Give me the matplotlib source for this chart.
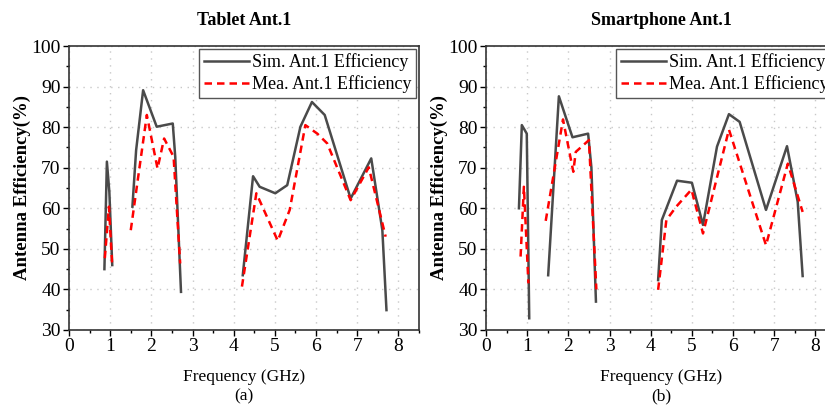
import matplotlib
matplotlib.use("Agg")
import matplotlib.pyplot as plt
from matplotlib.ticker import MultipleLocator

# ---- Tablet Ant.1 (a) ----
tab_sim_f = [[0.86, 0.92, 0.98, 1.05],
             [1.54, 1.63, 1.80, 2.13, 2.52, 2.58, 2.72],
             [4.22, 4.47, 4.63, 5.01, 5.30, 5.62, 5.90, 6.21, 6.84, 7.34, 7.61, 7.71]]
tab_sim_e = [[45.0, 71.5, 64.0, 46.0],
             [60.4, 74.3, 89.1, 80.1, 80.9, 72.7, 39.4],
             [43.5, 67.9, 65.3, 63.7, 65.7, 80.1, 86.2, 83.0, 62.4, 72.3, 54.6, 34.9]]
tab_mea_f = [[0.87, 0.97, 1.05],
             [1.50, 1.89, 2.15, 2.31, 2.54, 2.70],
             [4.20, 4.55, 5.07, 5.36, 5.74, 6.03, 6.27, 6.84, 7.28, 7.69]]
tab_mea_e = [[47.7, 60.4, 45.8],
             [54.6, 83.0, 69.8, 77.2, 72.7, 46.4],
             [40.7, 63.7, 52.0, 59.6, 80.5, 78.4, 76.0, 62.0, 70.1, 53.0]]

# ---- Smartphone Ant.1 (b) ----
sp_sim_f = [[0.80, 0.87, 0.99, 1.05],
            [1.51, 1.77, 2.10, 2.48, 2.56, 2.67],
            [4.18, 4.27, 4.64, 5.00, 5.27, 5.61, 5.90, 6.16, 6.80, 7.31, 7.57, 7.69]]
sp_sim_e = [[60.0, 80.5, 78.4, 32.9],
            [43.5, 87.6, 77.5, 78.4, 70.0, 37.0],
            [42.3, 57.1, 66.8, 66.3, 55.9, 75.2, 83.2, 81.3, 59.6, 75.3, 61.6, 43.3]]
sp_mea_f = [[0.84, 0.92, 1.03],
            [1.45, 1.87, 2.12, 2.18, 2.50, 2.68],
            [4.18, 4.38, 4.62, 4.99, 5.27, 5.90, 6.80, 7.33, 7.69]]
sp_mea_e = [[48.1, 65.3, 41.5],
            [56.9, 81.9, 69.0, 73.9, 76.8, 40.0],
            [39.9, 57.1, 60.4, 64.6, 53.8, 79.4, 50.9, 71.0, 59.1]]

plt.rcParams["font.family"] = ["Liberation Serif", "DejaVu Serif"]

W, H = 825, 408
fig = plt.figure(figsize=(W / 100, H / 100), dpi=100)


def panel(left_px, sim_f, sim_e, mea_f, mea_e, title, tag):
    # right panel runs past the image edge, as in the reference
    ax = fig.add_axes([left_px / W, (H - 330) / H, 350 / W, 284 / H])
    for i, (f, e) in enumerate(zip(sim_f, sim_e)):
        ax.plot(f, e, color="#4a4a4a", lw=1.8,
                label="Sim. Ant.1 Efficiency" if i == 0 else None)
    for i, (f, e) in enumerate(zip(mea_f, mea_e)):
        ax.plot(f, e, color="red", lw=1.8, ls=(0, (3, 2)),
                label="Mea. Ant.1 Efficiency" if i == 0 else None)
    ax.set_xlim(0, 8.5)
    ax.set_ylim(30, 100)
    ax.xaxis.set_major_locator(MultipleLocator(1))
    ax.xaxis.set_minor_locator(MultipleLocator(0.5))
    ax.yaxis.set_major_locator(MultipleLocator(10))
    ax.yaxis.set_minor_locator(MultipleLocator(5))
    ax.tick_params(which="major", direction="out", length=4, width=1,
                   labelsize=14, pad=2)
    ax.tick_params(which="minor", direction="out", length=2.5, width=1)
    ax.grid(True, which="major", ls=(0, (1, 4)), color="#c8c8c8", lw=1)
    for s in ax.spines.values():
        s.set_color("#333333")
        s.set_linewidth(1.2)
    ax.set_title(title, fontsize=13, fontweight="bold", pad=15)
    ax.set_xlabel(f"Frequency (GHz)\n({tag})", fontsize=12.5, labelpad=10,
                  linespacing=1.3)
    ax.set_ylabel("Antenna Efficiency(%)", fontsize=13.5, fontweight="bold",
                  labelpad=0)
    leg = ax.legend(loc="upper right", bbox_to_anchor=(1.0, 1.0),
                    borderaxespad=0.15, fontsize=13, fancybox=False,
                    framealpha=1, edgecolor="#555555", handlelength=2.5,
                    handletextpad=0.2, borderpad=0.25, labelspacing=0.25)
    leg.get_frame().set_linewidth(1.0)
    return ax


panel(69, tab_sim_f, tab_sim_e, tab_mea_f, tab_mea_e, "Tablet Ant.1", "a")
panel(486, sp_sim_f, sp_sim_e, sp_mea_f, sp_mea_e, "Smartphone Ant.1", "b")

fig.savefig("out.png", dpi=100)
